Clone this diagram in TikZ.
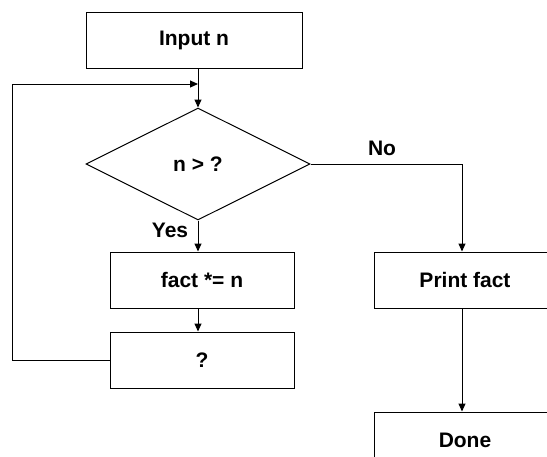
\documentclass[tikz,border=0pt]{standalone}
\usepackage{fontspec}
\setmainfont{Liberation Sans}
\usetikzlibrary{shapes.geometric,arrows.meta}
\tikzset{
    flowbox/.style={draw,line width=0.5pt,minimum height=28pt,inner sep=0pt},
    flowarrow/.style={line width=0.5pt,-{Triangle[length=4pt,width=3.5pt]}}
}

\begin{document}
\begin{tikzpicture}[x=0.5pt,y=-0.5pt,font=\fontsize{10.5}{12}\selectfont\bfseries]
            \clip (0,0) rectangle (547,456);
            \node[flowbox,minimum width=108pt] (input) at (194,40) {Input n};
            \node[draw,diamond,aspect=2,line width=0.5pt,inner sep=0pt,minimum width=112pt,minimum height=56pt] (test) at (198,164) {n > ?};
            \node[flowbox,minimum width=92pt] (fact) at (202,280) {fact *= n};
            \node[flowbox,minimum width=92pt] (next) at (202,360) {?};
            \node[flowbox,minimum width=91pt] (print) at (465,280) {Print fact};
            \node[flowbox,minimum width=91pt] (done) at (465,440) {Done};
            \coordinate (merge) at (198,84);
            \draw[line width=0.5pt] (input.south -| test.north)--(merge);
            \draw[flowarrow] (merge)--(test.north);
            \draw[flowarrow] (test.south)--(test.south |- fact.north);
            \draw[flowarrow] (test.south |- fact.south)--(test.south |- next.north);
            \draw[flowarrow] (next.west)--++(-97,0) |- (merge);
            \draw[flowarrow] (test.east) -| ([xshift=-1.5pt]print.north);
            \draw[flowarrow] ([xshift=-1.5pt]print.south)--([xshift=-1.5pt]done.north);
            \node (yes) at (170,230) {Yes};
            \node (no) at (382,148) {No};
        \end{tikzpicture}
\end{document}
